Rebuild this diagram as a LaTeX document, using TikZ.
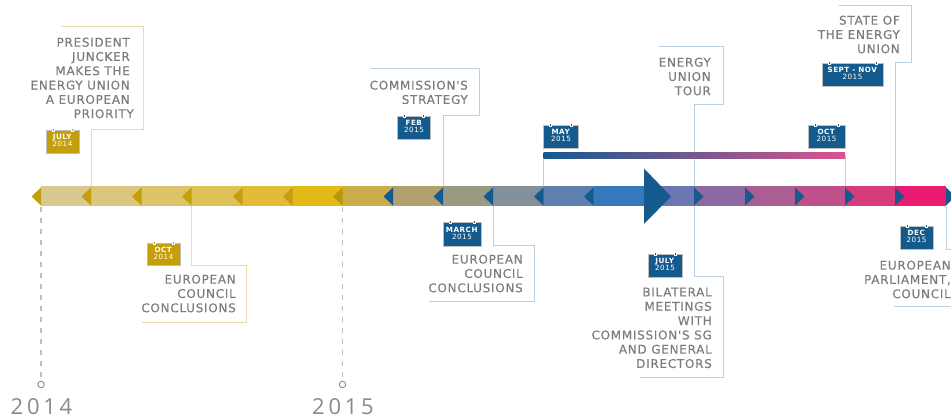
\documentclass[tikz,border=0pt]{standalone}
\usepackage{fontspec}
\setmainfont{DejaVu Sans}
\newfontfamily\labelfont[LetterSpace=6,FakeBold=0.25]{DejaVu Sans}
\newfontfamily\calfont[LetterSpace=7]{DejaVu Sans}
\newfontfamily\yearfont[LetterSpace=17]{Open Sans}
\definecolor{calblue}{HTML}{155A8C}
\definecolor{calgold}{HTML}{C49E0B}
\definecolor{linegold}{HTML}{E9DDAE}
\definecolor{lineblue}{HTML}{BCD0E2}
\definecolor{txt}{HTML}{7C7C7C}
\definecolor{barpink}{HTML}{D9558F}
\tikzset{
  lbl/.style={anchor=north east,inner sep=0pt,align=right,text=txt,font=\labelfont\fontsize{12}{14.3}\selectfont},
  cal/.style={rectangle,inner sep=0pt,align=center,text=white,draw=white!75!black,line width=.3pt,font=\calfont\fontsize{7.2}{8}\selectfont},
  gline/.style={draw=linegold,line width=1pt},
  bline/.style={draw=lineblue,line width=1pt},
  ring/.style={draw=white,line width=.5pt},
  yearlbl/.style={inner sep=0pt,text=txt!90,font=\yearfont\fontsize{22}{24}\selectfont},
  dashline/.style={draw=black!25,line width=1.2pt,dash pattern=on 5pt off 6pt},
  dotc/.style={circle,draw=black!45,line width=.9pt,fill=white,minimum size=6.5pt,inner sep=0pt}
}
\newcommand{\calnode}[7]{%
  \node[cal,fill=#6,minimum width=#4pt,minimum height=#5pt] (#1) at (#2,#3) {\raisebox{-1pt}{\begin{tabular}{@{}c@{}}#7\end{tabular}}};
  \draw[ring,fill=#6] ([xshift=7pt]#1.north west) ++(-1,-2) rectangle ++(2,3);
  \draw[ring,fill=#6] ([xshift=-7pt]#1.north east) ++(-1,-2) rectangle ++(2,3);
}
\renewcommand{\arraystretch}{0.72}
\begin{document}
\begin{tikzpicture}[x=1pt,y=-1pt]
\useasboundingbox (0,0) rectangle (951,419);
\clip (0,0) rectangle (951,419);
% connectors behind the bar
\coordinate (tjuly) at (91,187);
\coordinate (toct) at (191.5,206);
\coordinate (tfeb) at (443,187);
\coordinate (tmar) at (493,206);
\coordinate (tmay) at (543.5,187);
\coordinate (toctb) at (845,187);
\coordinate (ttour) at (694,187);
\coordinate (tbil) at (694,206);
\coordinate (tstate) at (895,187);
\coordinate (tdec) at (946,206);
\draw[gline] (tjuly) -- (91,130) -- (143,130) -- (143,27) -- (61,27);
\draw[gline] (toct) -- (191.5,266) -- (246,266) -- (246,322.5) -- (142,322.5);
\draw[bline] (tfeb) -- (443,116) -- (479,116) -- (479,69) -- (370,69);
\draw[bline] (tmar) -- (493,246) -- (534,246) -- (534,302) -- (429,302);
\draw[bline] (tmay) -- (543.5,155);
\draw[bline] (toctb) -- (845,155);
\draw[bline] (ttour) -- (694,105) -- (723,105) -- (723,47) -- (659,47);
\draw[bline] (tbil) -- (694,277) -- (723,277) -- (723,378) -- (640,378);
\draw[bline] (tstate) -- (895,63) -- (911,63) -- (911,6) -- (839,6);
\draw[bline] (tdec) -- (946,250) -- (951,250);
\draw[bline] (894,307) -- (951,307);
% bar segments
\foreach \a/\b/\c in {41/91/D8CA8F,91/141.5/DAC67F,141.5/191.5/DCC36A,191.5/242.5/DFC155,242.5/292.5/E2BC38,292.5/342.5/E2B917,342.5/393/C9AC4B,393/443/B0A16F,443/493/9A9A83,493/543.5/838F9B,543.5/593.5/5F7FAE,593.5/644/3578BD,644/694/6D75B3,694/745/8E68A0,745/795/AA5E94,795/845/BE5189,845/895/D63C7C,895/946/EA1B70}{
  \definecolor{segc}{HTML}{\c}
  \fill[segc] (\a,186.5) rectangle (\b,206.5);
}
% left pointing markers
\foreach \x in {41,91,141.5,191.5,242.5,292.5}{
  \fill[calgold] (\x,187.5) -- (\x-9.5,196.5) -- (\x,205.5) -- cycle;
}
\fill[calgold!90!black,opacity=.8] (342.5,187.5) -- (333,196.5) -- (342.5,205.5) -- cycle;
\foreach \x in {393,443,493,543.5,593.5}{
  \fill[calblue] (\x,187.5) -- (\x-9.5,196.5) -- (\x,205.5) -- cycle;
}
% right pointing markers
\foreach \x in {694,745,795,845,895,946}{
  \fill[calblue] (\x,187.5) -- (\x+9.5,196.5) -- (\x,205.5) -- cycle;
}
\fill[calblue] (644,168.5) -- (671,196.5) -- (644,224) -- cycle;
% long bar
\shade[left color=calblue,right color=barpink] (543.5,153) rectangle (845,158.5);
% year markers
\node[dotc] (d14) at (41,384.5) {};
\node[dotc] (d15) at (342.5,384.5) {};
\coordinate (b14) at (41,207);
\coordinate (b15) at (342.5,207);
\draw[dashline] (b14) -- (d14);
\draw[dashline] (b15) -- (d15);
\node[yearlbl] (y14) at (41.5,407) {2014};
\node[yearlbl] (y15) at (343,407) {2015};
% calendars
\calnode{c1}{62.5}{141.5}{33}{23}{calgold}{\textbf{JULY}\\2014}
\calnode{c2}{163.5}{254}{33}{22}{calgold}{\textbf{OCT}\\2014}
\calnode{c3}{414}{127.5}{33}{23}{calblue}{\textbf{FEB}\\2015}
\calnode{c4}{462}{234}{38}{24}{calblue}{\textbf{MARCH}\\2015}
\calnode{c5}{561}{136.5}{35}{23}{calblue}{\textbf{MAY}\\2015}
\calnode{c6}{826.5}{136.5}{37}{23}{calblue}{\textbf{OCT}\\2015}
\calnode{c7}{665}{265.5}{34}{23}{calblue}{\textbf{JULY}\\2015}
\calnode{c8}{852.5}{74.5}{61}{23}{calblue}{\textbf{SEPT - NOV}\\2015}
\calnode{c9}{916.5}{237.5}{33}{23}{calblue}{\textbf{DEC}\\2015}
% labels
\node[lbl] (l1) at (130,37.5) {PRESIDENT\\JUNCKER\\MAKES THE\\ENERGY UNION\\A EUROPEAN\\PRIORITY\hspace*{-4pt}};
\node[lbl] (l2) at (236,274.5) {EUROPEAN\\COUNCIL\\CONCLUSIONS};
\node[lbl] (l3) at (468,80.5) {COMMISSION'S\\STRATEGY};
\node[lbl] (l4) at (523,254.5) {EUROPEAN\\COUNCIL\\CONCLUSIONS};
\node[lbl] (l5) at (711,57.5) {ENERGY\\UNION\\TOUR};
\node[lbl] (l6) at (712,287.5) {BILATERAL\\MEETINGS\\WITH\\COMMISSION'S SG\\AND GENERAL\\DIRECTORS};
\node[lbl] (l7) at (900,15.5) {STATE OF\\THE ENERGY\\UNION};
\node[lbl] (l8) at (951,260.5) {EUROPEAN\\PARLIAMENT,\hspace*{-6pt}\\COUNCIL};
\end{tikzpicture}
\end{document}
